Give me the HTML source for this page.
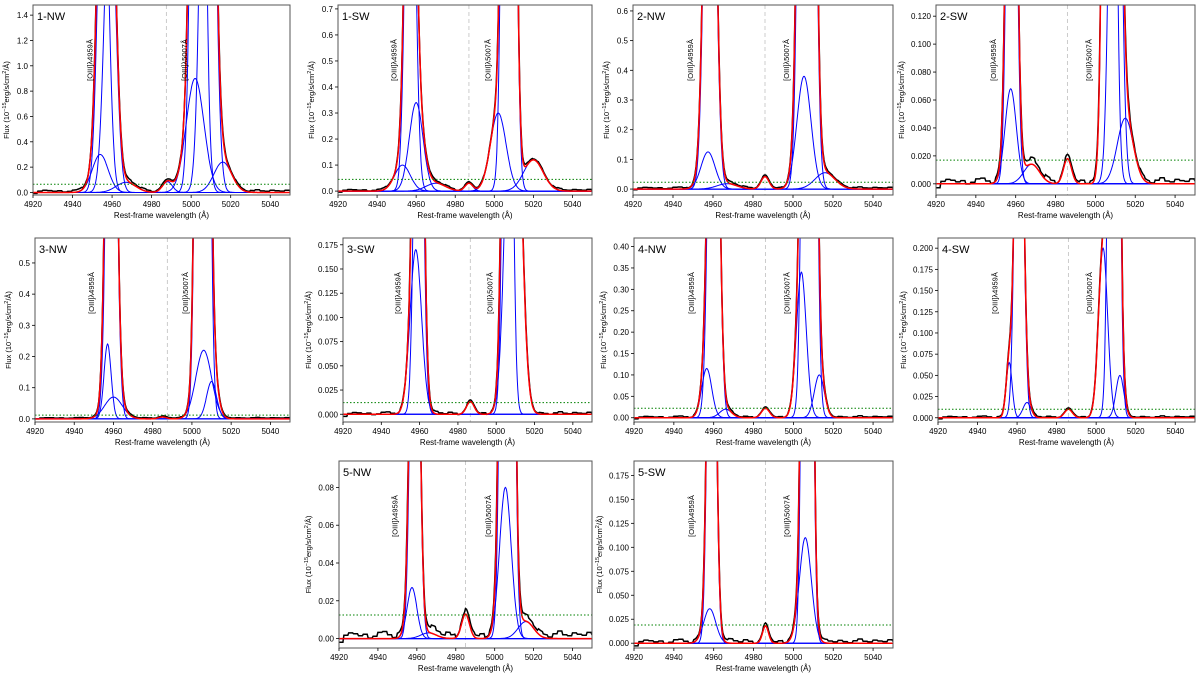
<!DOCTYPE html>
<html><head><meta charset="utf-8">
<style>
body{margin:0;background:#fff;}
svg{display:block;font-family:"Liberation Sans","DejaVu Sans",sans-serif;}
</style></head>
<body>
<svg id="fig" width="1200" height="679" viewBox="0 0 1200 679" xmlns="http://www.w3.org/2000/svg"></svg>
<script>
// ---- data ----
const panelNames = ["1-NW","1-SW","2-NW","2-SW","3-NW","3-SW","4-NW","4-SW","5-NW","5-SW"];
const yRanges = [[-0.02,1.48],[-0.015,0.715],[-0.02,0.62],[-0.008,0.128],[-0.01,0.58],[-0.008,0.182],[-0.01,0.42],[-0.005,0.212],[-0.005,0.094],[-0.005,0.19]];
const yTickSets = [
 [0,0.2,0.4,0.6,0.8,1.0,1.2,1.4],[0,0.1,0.2,0.3,0.4,0.5,0.6,0.7],[0,0.1,0.2,0.3,0.4,0.5,0.6],
 [0,0.02,0.04,0.06,0.08,0.10,0.12],[0,0.1,0.2,0.3,0.4,0.5],[0,0.025,0.05,0.075,0.1,0.125,0.15,0.175],
 [0,0.05,0.1,0.15,0.2,0.25,0.3,0.35,0.4],[0,0.025,0.05,0.075,0.1,0.125,0.15,0.175,0.2],
 [0,0.02,0.04,0.06,0.08],[0,0.025,0.05,0.075,0.1,0.125,0.15,0.175]];
const yTickDecimals = [1,1,1,3,1,3,2,3,2,3];
const xTicks = [4920,4940,4960,4980,5000,5020,5040];
const greenLevels = [0.065,0.045,0.023,0.017,0.012,0.012,0.022,0.01,0.0125,0.019];
const vLines = [4987.5,4987,4986,4986,4987.5,4986.5,4986,4986,4985,4986];
const noiseScales = [0.012,0.005,0.004,0.003,0.002,0.002,0.003,0.0015,0.0025,0.003];
const contOffsets = [0.012,0.004,0.004,0.002,0.003,0.001,0.002,0.001,0.002,0.002];
// gaussian components [center, amplitude, sigma]
const components = [
 [[4955.5,3,2.6],[4959,2.5,2.8],[4954,0.30,4],[4967,0.08,5],[4988,0.085,2.5],[5003.5,8,2.6],[5008.5,6,2.9],[5002,0.9,4.5],[5016,0.24,4.5]],
 [[4957,2,2.3],[4960,0.34,3.5],[4953,0.1,4],[4970,0.03,5],[4987,0.03,2],[5002,0.3,4],[5007.5,6,2.3],[5020,0.12,5]],
 [[4958.5,2,2.5],[4957.5,0.125,3.5],[4967,0.018,5],[4986,0.042,2],[5005.5,0.38,3.5],[5007,6,2.6],[5016,0.055,5]],
 [[4958,0.5,2],[4957.5,0.068,2.8],[4968,0.014,4],[4986,0.018,2],[5007,1,2.2],[5010,0.5,2.4],[5015,0.047,4]],
 [[4957,0.24,1.8],[4959,2,2.2],[4960,0.07,4.5],[4985,0.006,2],[5006,0.22,4],[5005.5,6,2.2],[5010,0.12,2.5]],
 [[4958,0.17,3],[4959.5,0.6,2],[4986.5,0.013,2],[5006,0.8,2],[5009,0.5,3.5]],
 [[4956.5,0.115,2.5],[4960,1.5,2.2],[4966,0.02,3],[4986,0.022,2],[5004,0.34,2.5],[5008,4,2.2],[5013,0.1,2.5]],
 [[4956,0.065,1.5],[4961,0.6,1.9],[4965,0.018,2],[4986,0.01,2],[5003.5,0.2,2.3],[5009,1.5,1.9],[5012,0.05,2]],
 [[4957.5,0.027,2.5],[4959,0.3,2],[4966,0.003,4],[4985,0.013,2],[5005.5,0.08,3],[5006.5,0.9,2.2],[5016,0.009,4]],
 [[4958,0.036,3],[4959,0.6,1.8],[4986,0.018,1.5],[5006,0.11,3],[5007,1.5,1.8]]
];
// residual pattern (units of noise scale), every 2.5 Å from 4920
const resid = [-1.2,0.3,0.8,0.6,0.2,0.5,-0.3,0.1,0.9,1.1,0.4,-0.2,0.6,0.3,1.0,0.2,-0.4,0.5,0.8,1.3,0.6,0.2,0.9,0.4,-0.3,0.1,0.7,0.5,0.2,0.6,-0.2,0.4,0.9,0.6,0.1,-0.4,0.3,0.8,1.0,0.5,0.2,0.7,0.3,-0.1,0.6,1.2,0.4,0.2,0.8,0.5,0.3,0.9,0.4];
// ---- layout ----
const boxes = [[33,5,290,195],[338,5,592,195],[633,5,893,195],[936,5,1195,195],
 [35,238,290,422],[343,238,592,422],[634,238,893,422],[938,238,1195,422],
 [339,461,592,648],[634,461,893,648]];
const NS="http://www.w3.org/2000/svg";
const svg=document.getElementById('fig');
function mk(tag,attrs,parent){const e=document.createElementNS(NS,tag);for(const k in attrs)e.setAttribute(k,attrs[k]);(parent||svg).appendChild(e);return e;}
function gauss(c,x){return c[1]*Math.exp(-((x-c[0])**2)/(2*c[2]*c[2]));}

panelNames.forEach((name,p)=>{
 const [L,T,R,B]=boxes[p];
 const [y0,y1]=yRanges[p];
 const xs=x=>L+(x-4920)/(5050-4920)*(R-L);
 const ys=y=>B-(y-y0)/(y1-y0)*(B-T);
 const g=mk('g',{});
 
 
 const cp=mk('clipPath',{id:'c'+p},g);
 mk('rect',{x:L,y:T,width:R-L,height:B-T},cp);
 const plot=mk('g',{'clip-path':'url(#c'+p+')'},g);
 const vl=mk('line',{x1:xs(vLines[p]),x2:xs(vLines[p]),y1:T,y2:B,stroke:'#ccc','stroke-width':1,'stroke-dasharray':'4,3'},plot);
 
 
 const model=x=>components[p].reduce((s,c)=>s+gauss(c,x),0);
 let d='';
 for(let i=0;i<resid.length;i++){
  const xa=4920+i*2.5;
  for(let k=0;k<5;k++){const x=xa+k*0.5;const v=model(x)*(1+0.02*resid[i])+contOffsets[p]+(resid[i]-0.4)*noiseScales[p];
   d+=(d?'L':'M')+xs(x).toFixed(1)+','+ys(v).toFixed(1);}
 }
 const bl=mk('path',{d:d,fill:'none',stroke:'#000','stroke-width':1.5},plot);
 
 
 components[p].forEach((c)=>{
  let dd='';for(let x=4920;x<=5050;x+=0.25){dd+=(dd?'L':'M')+xs(x).toFixed(1)+','+ys(gauss(c,x)).toFixed(1);}
  const e=mk('path',{d:dd,fill:'none',stroke:'#0000ff','stroke-width':1},plot);
  
  
 });
 let dr='';for(let x=4920;x<=5050;x+=0.25){dr+=(dr?'L':'M')+xs(x).toFixed(1)+','+ys(model(x)).toFixed(1);}
 const rd=mk('path',{d:dr,fill:'none',stroke:'#ff0000','stroke-width':1.5},plot);
 
 
 const gl=mk('line',{x1:L,x2:R,y1:ys(greenLevels[p]),y2:ys(greenLevels[p]),stroke:'#008000','stroke-width':1,'stroke-dasharray':'1.5,2'},plot);
 
 
 mk('rect',{x:L,y:T,width:R-L,height:B-T,fill:'none',stroke:'#555','stroke-width':1},g);
 xTicks.forEach(t=>{const X=xs(t);mk('line',{x1:X,x2:X,y1:B,y2:B+3,stroke:'#000','stroke-width':0.8},g);
  const tx=mk('text',{x:X,y:B+12,'font-size':8,'text-anchor':'middle'},g);tx.textContent=t;
  });
 yTickSets[p].forEach(t=>{const Y=ys(t);mk('line',{x1:L-3,x2:L,y1:Y,y2:Y,stroke:'#000','stroke-width':0.8},g);
  const tx=mk('text',{x:L-5,y:Y+3,'font-size':8,'text-anchor':'end'},g);tx.textContent=t.toFixed(yTickDecimals[p]);
  });
 const xl=mk('text',{x:(L+R)/2,y:B+23,'font-size':8,'text-anchor':'middle'},g);xl.textContent='Rest-frame wavelength (Å)';
 
 const off=yTickDecimals[p]===1?24:(yTickDecimals[p]===2?28:32);
 const yl=mk('text',{'font-size':7.5,'text-anchor':'middle',transform:`translate(${L-off},${(T+B)/2}) rotate(-90)`},g);
 yl.innerHTML='Flux (10<tspan dy="-3" font-size="5.5">−15</tspan><tspan dy="3">erg/s/cm</tspan><tspan dy="-3" font-size="5.5">2</tspan><tspan dy="3">/Å)</tspan>';
 
 const ti=mk('text',{x:L+4,y:T+15,'font-size':11},g);ti.textContent=name;
 
 [[4950,'[OIII]λ4959Å'],[4998,'[OIII]λ5007Å']].forEach(([w,s])=>{
  const lt=mk('text',{'font-size':7.5,'text-anchor':'middle',transform:`translate(${xs(w)},${T+55}) rotate(-90)`},g);lt.textContent=s;
  });
});
</script>
</body></html>
